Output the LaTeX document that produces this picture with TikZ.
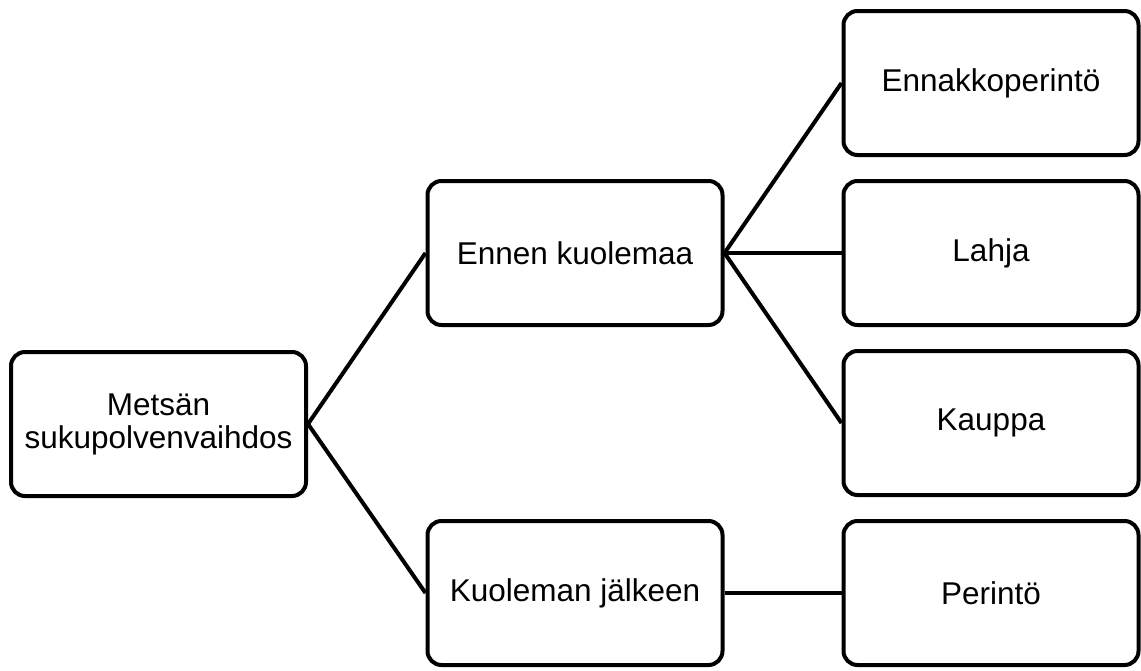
\documentclass[tikz,border=0pt]{standalone}
\usepackage{fontspec}
\setmainfont{Liberation Sans}
\usetikzlibrary{positioning}

\begin{document}
\begin{tikzpicture}[
        node distance=22pt and 117pt,
        treebox/.style={
            draw, line width=4pt, rounded corners=14pt,
            fill=white, align=center,
            minimum width=295pt, minimum height=144pt,
            font=\fontsize{31.5pt}{33pt}\selectfont
        },
        link/.style={line width=4pt}
    ]

        \useasboundingbox (0,0) rectangle (1141pt,-670pt);

        % right column
        \node[treebox] (Lahja) at (991pt,-253pt) {Lahja};
        \node[treebox, above=of Lahja] (Ennakko) {Ennakkoperintö};
        \node[treebox, below=of Lahja] (Kauppa) {Kauppa};
        \node[treebox, below=of Kauppa] (Perinto) {Perintö};

        % middle column
        \node[treebox, left=of Lahja] (Ennen) {Ennen kuolemaa};
        \node[treebox, left=of Perinto] (Jalkeen) {Kuoleman jälkeen};

        % root
        \node[treebox] (Root) at (158.5pt,-424pt) {Metsän\\sukupolvenvaihdos};

        \draw[link] (Root.east) -- (Ennen.west);
        \draw[link] (Root.east) -- (Jalkeen.west);
        \draw[link] (Ennen.east) -- (Ennakko.west);
        \draw[link] (Ennen.east) -- (Lahja.west);
        \draw[link] (Ennen.east) -- (Kauppa.west);
        \draw[link] (Jalkeen.east) -- (Perinto.west);

    \end{tikzpicture}
\end{document}
